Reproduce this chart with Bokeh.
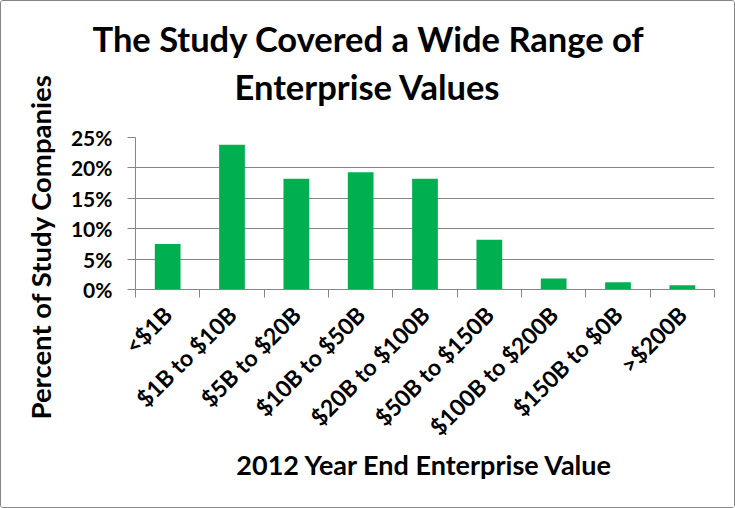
import math
from bokeh.plotting import figure
from bokeh.models import Title, FixedTicker, NumeralTickFormatter, Range1d
from bokeh.embed import file_html
from bokeh.resources import INLINE

categories = ["<$1B", "$1B to $10B", "$5B to $20B", "$10B to $50B", "$20B to $100B",
              "$50B to $150B", "$100B to $200B", "$150B to $0B", ">$200B"]
percent = [0.075, 0.238, 0.182, 0.193, 0.182, 0.082, 0.018, 0.012, 0.007]
y_ticks = [0.0, 0.05, 0.10, 0.15, 0.20, 0.25]

title_lines = ["The Study Covered a Wide Range of", "Enterprise Values"]
x_title = "2012 Year End Enterprise Value"
y_title = "Percent of Study Companies"

FONT = "Lato"
GREEN = "#00B050"
GRAY = "#868686"

n = len(categories)
centers = [i + 0.5 for i in range(n)]
bounds = [float(i) for i in range(n + 1)]

W, H = 735, 508
p = figure(width=W, height=H, output_backend="svg", toolbar_location=None,
           x_range=Range1d(0, n), y_range=Range1d(0, 0.25))
p.title = None
p.min_border_left = 134
p.min_border_right = 22
p.min_border_top = 136
p.min_border_bottom = 220
p.outline_line_color = None
p.background_fill_color = "white"
p.border_fill_color = "white"
p.styles = {"border": "1.5px solid #868686", "border-radius": "3px", "box-sizing": "border-box"}

p.vbar(x=centers, top=percent, width=0.4, bottom=0, color=GREEN, line_color=None)

# x axis
xa = p.xaxis[0]
xa.ticker = FixedTicker(ticks=centers, minor_ticks=bounds)
xa.major_label_overrides = {c: lab for c, lab in zip(centers, categories)}
xa.major_tick_line_color = None
xa.minor_tick_line_color = GRAY
xa.minor_tick_out = 8
xa.minor_tick_in = 0
xa.axis_line_color = GRAY
xa.major_label_orientation = math.pi / 4
xa.major_label_text_font = FONT
xa.major_label_text_font_style = "bold"
xa.major_label_text_font_size = "23px"
xa.major_label_text_color = "black"
xa.major_label_standoff = 13
xa.axis_label = x_title
xa.axis_label_text_font = FONT
xa.axis_label_text_font_style = "bold"
xa.axis_label_text_font_size = "27px"
xa.axis_label_text_color = "black"
xa.axis_label_standoff = -5

# y axis
ya = p.yaxis[0]
ya.ticker = FixedTicker(ticks=y_ticks)
ya.formatter = NumeralTickFormatter(format="0%")
ya.minor_tick_line_color = None
ya.major_tick_line_color = GRAY
ya.major_tick_out = 8
ya.major_tick_in = 0
ya.axis_line_color = GRAY
ya.major_label_text_font = FONT
ya.major_label_text_font_style = "bold"
ya.major_label_text_font_size = "21px"
ya.major_label_text_color = "black"
ya.major_label_standoff = 15

p.xgrid.grid_line_color = None
p.ygrid.ticker = FixedTicker(ticks=y_ticks)
p.ygrid.grid_line_color = GRAY
p.ygrid.grid_line_width = 1

# titles (nearest to frame first): a spacer, then the second line, then the first
p.add_layout(Title(text="\u00a0", standoff=25, text_font_size="1px"), "above")
p.add_layout(Title(text=title_lines[1], align="left", offset=99, standoff=5,
                   text_font=FONT, text_font_style="bold", text_font_size="34.5px",
                   text_color="black"), "above")
p.add_layout(Title(text=title_lines[0], align="left", offset=-43, standoff=5,
                   text_font=FONT, text_font_style="bold", text_font_size="34.5px",
                   text_color="black"), "above")

p.add_layout(Title(text=y_title, align="left", offset=-130, standoff=22,
                   text_font=FONT, text_font_style="bold", text_font_size="27.5px",
                   text_color="black"), "left")

open("out.html", "w").write(file_html(p, INLINE))
